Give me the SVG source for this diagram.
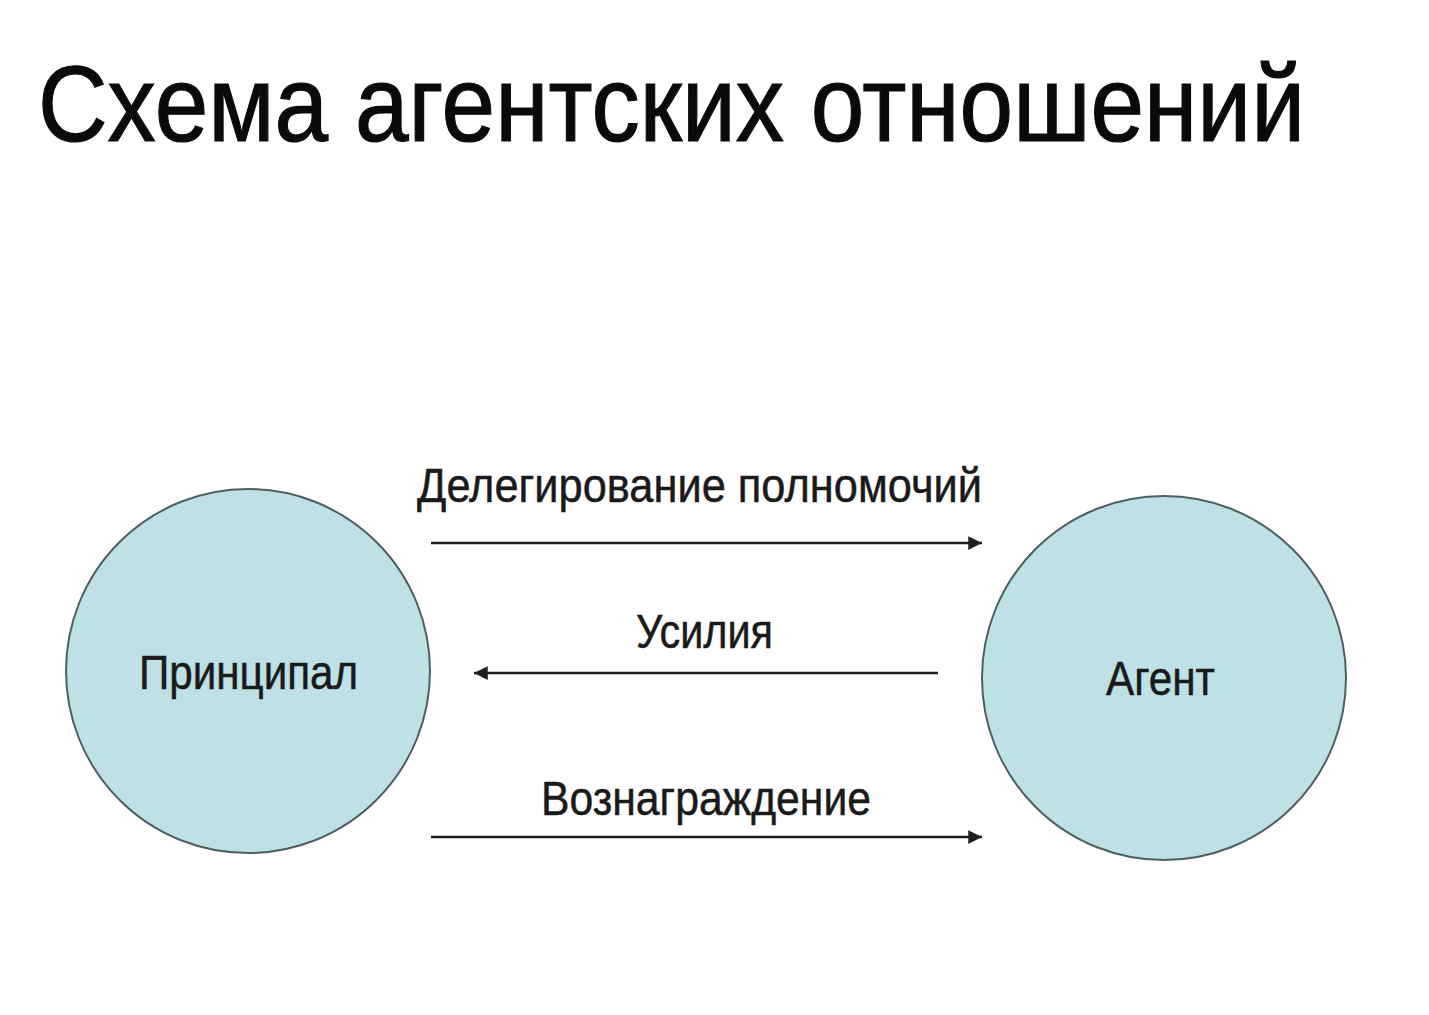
<svg xmlns="http://www.w3.org/2000/svg" width="1429" height="1015" viewBox="0 0 1429 1015">
<style>
.t{font-family:"Liberation Sans",Arial,sans-serif;fill:#1a1a1a}
.title{fill:#0a0a0a;stroke:#0a0a0a;stroke-width:1.1}
.lbl{font-size:48px;stroke:#1a1a1a;stroke-width:0.5}
.node{fill:#bde1e5;stroke:#4f5f61;stroke-width:2}
.conn{stroke:#1e1e1e;stroke-width:2.5;fill:none}
</style>
<defs>
<marker id="ah" viewBox="0 0 10 10" refX="10" refY="5" markerWidth="5.5" markerHeight="5.5" orient="auto-start-reverse" markerUnits="strokeWidth">
<path d="M0,0 L10,5 L0,10 Z" fill="#1e1e1e"/>
</marker>
</defs>
<rect width="1429" height="1015" fill="#ffffff"/>
<text class="t title" transform="translate(38,141) scale(1,1.1)" x="0" y="0" font-size="98" textLength="1267" lengthAdjust="spacingAndGlyphs">Схема агентских отношений</text>
<g id="principal">
<circle class="node" cx="248" cy="671" r="182"/>
<text class="t lbl" x="139" y="689" textLength="219" lengthAdjust="spacingAndGlyphs">Принципал</text>
</g>
<g id="agent">
<circle class="node" cx="1164" cy="678" r="182"/>
<text class="t lbl" x="1106" y="695" textLength="109" lengthAdjust="spacingAndGlyphs">Агент</text>
</g>
<g id="connectors">
<line class="conn" x1="431" y1="543" x2="982" y2="543" marker-end="url(#ah)"/>
<line class="conn" x1="938" y1="673" x2="474" y2="673" marker-end="url(#ah)"/>
<line class="conn" x1="431" y1="837" x2="982" y2="837" marker-end="url(#ah)"/>
<text class="t lbl" x="417" y="502" textLength="565" lengthAdjust="spacingAndGlyphs">Делегирование полномочий</text>
<text class="t lbl" x="636" y="648" textLength="137" lengthAdjust="spacingAndGlyphs">Усилия</text>
<text class="t lbl" x="541" y="815" textLength="330" lengthAdjust="spacingAndGlyphs">Вознаграждение</text>
</g>
</svg>
